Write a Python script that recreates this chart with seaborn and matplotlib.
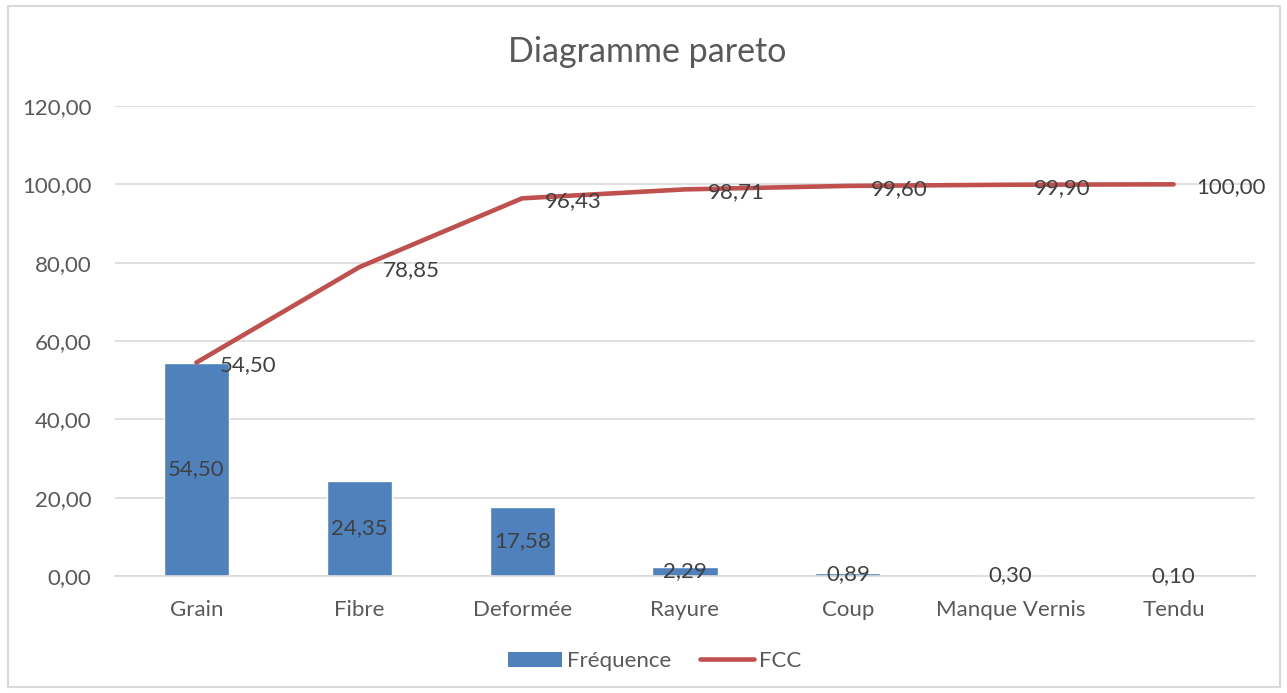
import matplotlib
matplotlib.use("Agg")
import matplotlib.pyplot as plt
import seaborn as sns
import pandas as pd
import numpy as np
from matplotlib.patches import Patch, Rectangle
from matplotlib.lines import Line2D

categories = ["Grain", "Fibre", "Deformée", "Rayure", "Coup", "Manque Vernis", "Tendu"]
frequence = [54.50, 24.35, 17.58, 2.29, 0.89, 0.30, 0.10]
fcc = [54.50, 78.85, 96.43, 98.71, 99.60, 99.90, 100.00]
yticks = [0, 20, 40, 60, 80, 100, 120]
title = "Diagramme pareto"
series_names = ["Fréquence", "FCC"]

BLUE = "#4F81BD"
RED = "#C0504D"
TICK = "#595959"
LABEL = "#404040"
FS = 16

sns.set_theme(style="white")
plt.rcParams["font.family"] = ["Lato", "DejaVu Sans"]

def fr(v):
    return f"{v:.2f}".replace(".", ",")

df = pd.DataFrame({"cat": categories, "freq": frequence, "fcc": fcc})

fig = plt.figure(figsize=(12.87, 6.93), dpi=100)
ax = fig.add_axes([115/1287, 117/693, 1140/1287, 470/693])

sns.barplot(data=df, x="cat", y="freq", color=BLUE, saturation=1, width=0.4, ax=ax, zorder=2)
sns.lineplot(data=df, x="cat", y="fcc", color=RED, linewidth=3.3, sort=False, ax=ax, zorder=3,
             solid_capstyle="round")

ax.set_xlim(-0.5, len(categories) - 0.5)
ax.set_ylim(0, 120)
ax.set_yticks(yticks)
ax.set_yticklabels([fr(t) for t in yticks])
ax.yaxis.grid(True, color="#D9D9D9", linewidth=1.2, zorder=0)
ax.set_axisbelow(True)
for s in ["top", "right", "left"]:
    ax.spines[s].set_visible(False)
ax.spines["bottom"].set_color("#D9D9D9")
ax.spines["bottom"].set_linewidth(1.2)
ax.tick_params(axis="y", length=0, pad=17, labelsize=FS, labelcolor=TICK)
ax.tick_params(axis="x", length=0, pad=17, labelsize=FS, labelcolor=TICK)
ax.set_xlabel("")
ax.set_ylabel("")

for i, v in enumerate(frequence):
    ax.text(i, v / 2, fr(v), ha="center", va="center", fontsize=FS, color=LABEL, zorder=4)
for i, v in enumerate(fcc):
    ax.annotate(fr(v), (i, v), xytext=(23, -3), textcoords="offset pixels",
                ha="left", va="center", fontsize=FS, color=LABEL, zorder=4)

fig.text(647/1287, 1 - 52/693, title, ha="center", va="center", fontsize=24.5, color=TICK)

handles = [Patch(facecolor=BLUE, edgecolor="none"),
           Line2D([0], [0], color=RED, linewidth=3.3, solid_capstyle="round")]
fig.legend(handles, series_names, loc="center", bbox_to_anchor=(655/1287, 1 - 661/693),
           ncol=2, frameon=False, fontsize=FS, labelcolor=TICK, handlelength=2.4,
           handleheight=0.65, handletextpad=0.25, columnspacing=1.3)

fig.add_artist(Rectangle((8/1287, 6/693), 1272/1287, 681/693, transform=fig.transFigure,
                         fill=False, edgecolor="#D9D9D9", linewidth=1.5))

fig.savefig("out.png", dpi=100)
